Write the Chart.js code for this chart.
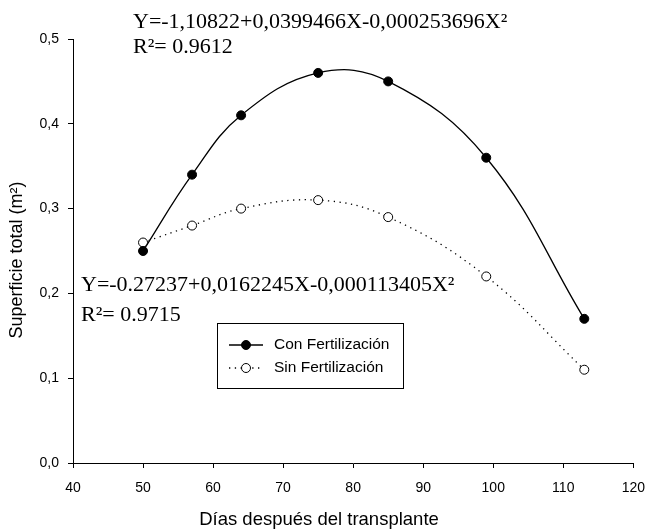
<!DOCTYPE html>
<html>
<head>
<meta charset="utf-8">
<script src="https://cdn.jsdelivr.net/npm/chart.js@4.4.1/dist/chart.umd.min.js"></script>
<style>
  body { margin: 0; background: #fff; }
</style>
</head>
<body>
<canvas id="myChart" width="657" height="531"></canvas>
<script>
// data
const dias = [50, 57, 64, 75, 85, 99, 113];
const conFert = [0.25, 0.34, 0.41, 0.46, 0.45, 0.36, 0.17];
const sinFert = [0.26, 0.28, 0.30, 0.31, 0.29, 0.22, 0.11];

const xTitle = 'Días después del transplante';
const yTitle = 'Superficie total (m²)';
const eqCon = ['Y=-1,10822+0,0399466X-0,000253696X²', 'R²= 0.9612'];
const eqSin = ['Y=-0.27237+0,0162245X-0,000113405X²', 'R²= 0.9715'];

const sans = '"Liberation Sans", Arial, sans-serif';
const serif = '"Liberation Serif", "Times New Roman", serif';

// texts, axis titles and the boxed legend
const extras = {
  id: 'extras',
  afterDraw(chart) {
    const c = chart.ctx;
    c.save();
    c.fillStyle = '#000';
    c.textBaseline = 'middle';

    c.font = '22px ' + serif;
    c.textAlign = 'left';
    c.fillText(eqCon[0], 133, 22);
    c.fillText(eqCon[1], 133, 47);
    c.fillText(eqSin[0], 81, 285);
    c.fillText(eqSin[1], 81, 315);

    c.font = '18.5px ' + sans;
    c.textAlign = 'center';
    c.fillText(xTitle, 319, 520);
    c.font = '18px ' + sans;
    c.save();
    c.translate(17, 260);
    c.rotate(-Math.PI / 2);
    c.fillText(yTitle, 0, 0);
    c.restore();

    // legend
    c.strokeStyle = '#000';
    c.lineWidth = 1;
    c.strokeRect(217.5, 323.5, 186, 65);
    const rows = [
      { label: 'Con Fertilización', y: 345, ds: chart.data.datasets[0] },
      { label: 'Sin Fertilización', y: 368, ds: chart.data.datasets[1] }
    ];
    rows.forEach(r => {
      c.beginPath();
      c.setLineDash(r.ds.borderDash || []);
      c.lineWidth = r.ds.borderWidth;
      c.moveTo(229, r.y);
      c.lineTo(263, r.y);
      c.stroke();
      c.setLineDash([]);
      c.beginPath();
      c.arc(246, r.y, r.ds.pointRadius, 0, Math.PI * 2);
      c.fillStyle = r.ds.pointBackgroundColor;
      c.fill();
      c.lineWidth = 1;
      c.stroke();
      c.fillStyle = '#000';
      c.font = '15.5px ' + sans;
      c.textAlign = 'left';
      c.fillText(r.label, 274, r.y);
    });
    c.restore();
  }
};

var ctx = document.getElementById('myChart').getContext('2d');
var chart = new Chart(ctx, {
  type: 'line',
  data: {
    datasets: [{
      label: 'Con Fertilización',
      data: dias.map((d, i) => ({ x: d, y: conFert[i] })),
      borderColor: '#000',
      borderWidth: 1.3,
      tension: 0.4,
      pointRadius: 4.5,
      pointBackgroundColor: '#000',
      pointBorderColor: '#000',
      pointBorderWidth: 1
    }, {
      label: 'Sin Fertilización',
      data: dias.map((d, i) => ({ x: d, y: sinFert[i] })),
      borderColor: '#000',
      borderWidth: 1.3,
      borderDash: [1.3, 4.5],
      tension: 0.4,
      pointRadius: 4.5,
      pointBackgroundColor: '#fff',
      pointBorderColor: '#000',
      pointBorderWidth: 1
    }]
  },
  options: {
    responsive: false,
    animation: false,
    layout: { padding: { top: 39, right: 15, left: 0, bottom: 0 } },
    plugins: {
      legend: { display: false },
      tooltip: { enabled: false }
    },
    scales: {
      x: {
        type: 'linear',
        min: 40,
        max: 120,
        afterFit: s => { s.height = 68; },
        ticks: { stepSize: 10, color: '#000', padding: 12, font: { family: sans, size: 14 } },
        grid: { drawOnChartArea: false, drawTicks: true, tickLength: 5, color: '#000' },
        border: { display: true, color: '#000', width: 1 }
      },
      y: {
        min: 0,
        max: 0.5,
        afterFit: s => { s.width = 73; },
        ticks: {
          stepSize: 0.1,
          color: '#000',
          padding: 9,
          font: { family: sans, size: 14 },
          callback: v => v.toFixed(1).replace('.', ',')
        },
        grid: { drawOnChartArea: false, drawTicks: true, tickLength: 5, color: '#000' },
        border: { display: true, color: '#000', width: 1 }
      }
    }
  },
  plugins: [extras]
});
</script>
</body>
</html>
